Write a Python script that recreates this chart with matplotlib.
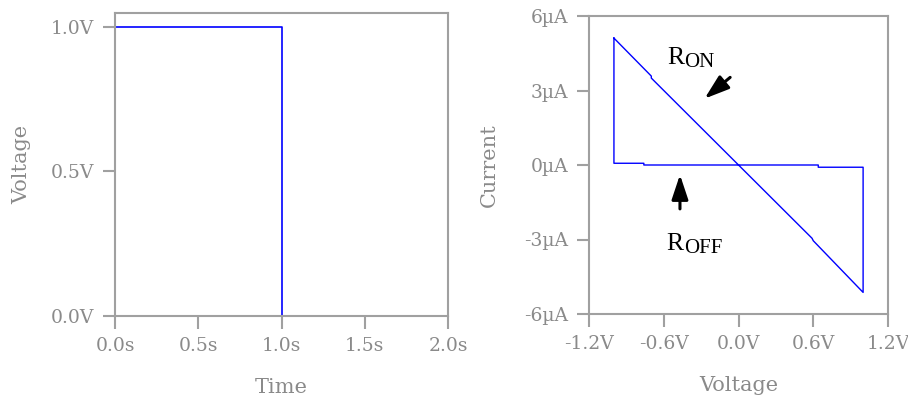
import matplotlib
matplotlib.use("Agg")
import matplotlib.pyplot as plt

# left panel: applied voltage pulse
pulse_time = [0.0, 0.0, 1.0, 1.0]
pulse_voltage = [0.0, 1.0, 1.0, 0.0]
time_ticks = [0.0, 0.5, 1.0, 1.5, 2.0]
time_labels = ["0.0s", "0.5s", "1.0s", "1.5s", "2.0s"]
volt_ticks = [0.0, 0.5, 1.0]
volt_labels = ["0.0V", "0.5V", "1.0V"]

# right panel: I-V hysteresis loop (voltage in V, current in uA)
loop_voltage = [-1.0, -0.70, -0.70, 0.59, 0.60, 1.0, 1.0, 0.64, 0.64, -0.76, -0.76, -1.0, -1.0]
loop_current = [5.11, 3.58, 3.50, -2.95, -3.05, -5.13, -0.09, -0.09, 0.0, 0.0, 0.07, 0.07, 5.11]
iv_xticks = [-1.2, -0.6, 0.0, 0.6, 1.2]
iv_xlabels = ["-1.2V", "-0.6V", "0.0V", "0.6V", "1.2V"]
iv_yticks = [-6, -3, 0, 3, 6]
iv_ylabels = ["-6\u00b5A", "-3\u00b5A", "0\u00b5A", "3\u00b5A", "6\u00b5A"]

plt.rcParams["font.family"] = ["DejaVu Serif"]

spine_color = "#a0a0a0"
text_color = "#8a8a8a"


def style_axis(axis):
    for spine in axis.spines.values():
        spine.set_color(spine_color)
        spine.set_linewidth(1.5)
    axis.tick_params(direction="out", length=9, width=1.5, color=spine_color,
                     labelcolor=text_color, labelsize=13.5, pad=6)


def resistance_label(axis, x, y, sub):
    # big "R" with a lowered, smaller subscript, Times-like
    axis.text(x, y, "R", fontsize=18.5, family="Liberation Serif", va="baseline")
    axis.annotate(sub, xy=(x, y), xytext=(12.5, -2.2), textcoords="offset points",
                  fontsize=15, family="Liberation Serif", va="baseline")


figure = plt.figure(figsize=(9.08, 4.0), dpi=100)
left = figure.add_axes([0.1267, 0.21, 0.3667, 0.7575])
right = figure.add_axes([0.6487, 0.215, 0.3293, 0.745])

left.plot(pulse_time, pulse_voltage, color="#0000ff", linewidth=1.2)
left.set_xlim(0.0, 2.0)
left.set_ylim(0.0, 1.048)
left.set_xticks(time_ticks, time_labels)
left.set_yticks(volt_ticks, volt_labels)
left.set_xlabel("Time", color=text_color, fontsize=15, labelpad=17)
left.set_ylabel("Voltage", color=text_color, fontsize=15, labelpad=14)
style_axis(left)

right.plot(loop_voltage, loop_current, color="#0000ff", linewidth=1.0)
right.set_xlim(-1.2, 1.2)
right.set_ylim(-6, 6)
right.set_xticks(iv_xticks, iv_xlabels)
right.set_yticks(iv_yticks, iv_ylabels)
right.set_xlabel("Voltage", color=text_color, fontsize=15, labelpad=17)
right.set_ylabel("Current", color=text_color, fontsize=15, labelpad=18)
style_axis(right)

resistance_label(right, -0.575, 4.08, "ON")
resistance_label(right, -0.577, -3.44, "OFF")
arrow_style = dict(arrowstyle="-|>,head_length=1.5,head_width=0.5", color="black", linewidth=2.2)
right.annotate("", xy=(-0.29, 2.6), xytext=(-0.05, 3.6), arrowprops=arrow_style)
right.annotate("", xy=(-0.47, -0.28), xytext=(-0.47, -1.88), arrowprops=arrow_style)

figure.savefig("out.png", dpi=100)
plt.close(figure)
